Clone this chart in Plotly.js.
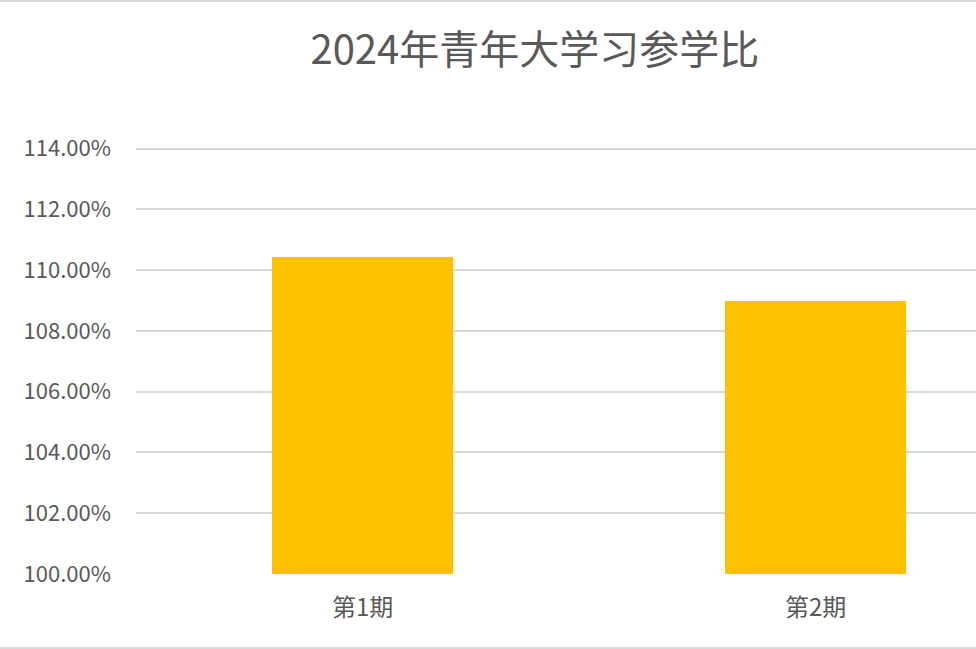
<!DOCTYPE html>
<html>
<head>
<meta charset="utf-8">
<script src="https://cdn.plot.ly/plotly-3.0.1.min.js"></script>
<style>
  body { margin: 0; background: #fff; }
  #wrap { width: 976px; height: 645px; border-top: 2px solid #d9d9d9; border-bottom: 2px solid #d9d9d9; }
  #chart { width: 976px; height: 645px; }
</style>
</head>
<body>
<div id="wrap"><div id="chart"></div></div>
<script>
// 2024 youth study participation ratio
var periods = ['第1期', '第2期'];
var ratios = [1.1044, 1.0899];
var y_ticks = [1.00, 1.02, 1.04, 1.06, 1.08, 1.10, 1.12, 1.14];

var font_cjk = '"Noto Sans CJK SC", "Noto Sans", sans-serif';

var trace = {
  x: periods,
  y: ratios,
  type: 'bar',
  width: 0.4,
  marker: { color: '#ffc000' },
  hoverinfo: 'x+y',
};

var layout = {
  title: {
    text: '2024年青年大学习参学比',
    font: { family: font_cjk, size: 40, color: '#595959' },
    x: 0.548,
    xref: 'container',
    xanchor: 'center',
    y: 0.925,
    yref: 'container',
    yanchor: 'middle',
  },
  showlegend: false,
  margin: { t: 145, r: 0, l: 136, b: 73 },
  paper_bgcolor: '#fff',
  plot_bgcolor: '#fff',
  bargap: 0,
  xaxis: {
    type: 'category',
    range: [-0.5, 1.354],
    fixedrange: true,
    showgrid: false,
    zeroline: false,
    showline: false,
    ticks: '',
    ticklabelstandoff: 17,
    tickfont: { family: font_cjk, size: 24, color: '#595959' },
  },
  yaxis: {
    // a little headroom so the 114% gridline is drawn
    range: [1.0, 1.1405],
    tickmode: 'array',
    tickvals: y_ticks,
    tickformat: '.2%',
    fixedrange: true,
    showgrid: true,
    gridcolor: '#d9d9d9',
    gridwidth: 2,
    zeroline: false,
    showline: false,
    ticks: '',
    ticklabelstandoff: 24,
    tickfont: { family: font_cjk, size: 22, color: '#595959' },
  },
};

var config = {
  responsive: false,
  displayModeBar: false,
  staticPlot: true,
};

Plotly.newPlot('chart', [trace], layout, config);
</script>
</body>
</html>
